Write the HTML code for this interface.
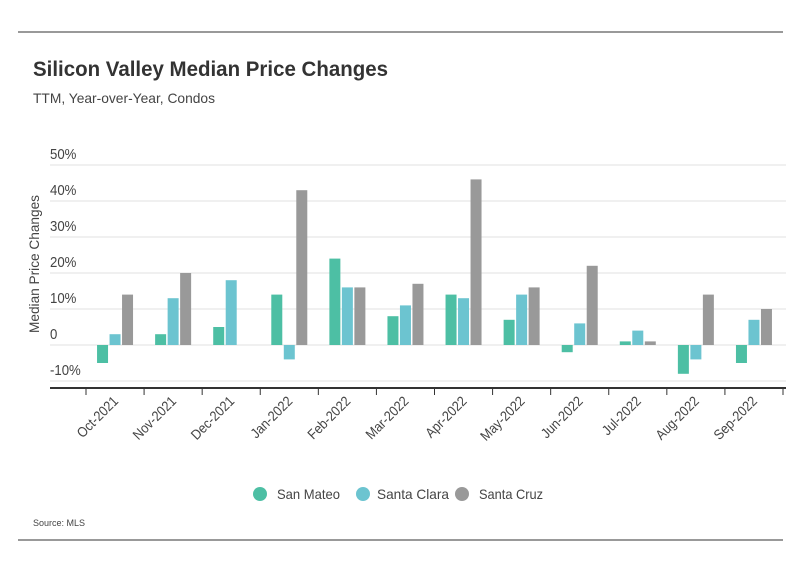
<!DOCTYPE html>
<html><head><meta charset="utf-8"><style>
body{margin:0;background:#fff;font-family:"Liberation Sans",sans-serif;}
#wrap{position:relative;width:801px;height:575px;overflow:hidden;}
text{font-family:"Liberation Sans",sans-serif;}
</style></head><body>
<div id="wrap">
<svg id="chart" width="801" height="575">
<line x1="18" y1="32" x2="783" y2="32" stroke="#333" stroke-width="1"/>
<line x1="18" y1="540" x2="783" y2="540" stroke="#333" stroke-width="1"/>
<text x="33" y="76" font-size="21" font-weight="bold" fill="#333" textLength="355" lengthAdjust="spacingAndGlyphs">Silicon Valley Median Price Changes</text>
<text x="33" y="103" font-size="14" fill="#444" textLength="182" lengthAdjust="spacingAndGlyphs">TTM, Year-over-Year, Condos</text>
<text transform="translate(39,264) rotate(-90)" text-anchor="middle" font-size="14" fill="#444" textLength="138" lengthAdjust="spacingAndGlyphs">Median Price Changes</text>
<g id="grid"></g><g id="bars"></g><g id="xaxis"></g>
<g>
<g><circle cx="260" cy="494" r="7" fill="#4dbfa4"/><text x="277" y="499" font-size="14" fill="#444" textLength="63" lengthAdjust="spacingAndGlyphs">San Mateo</text></g>
<g><circle cx="363" cy="494" r="7" fill="#6cc4d0"/><text x="377" y="499" font-size="14" fill="#444" textLength="72" lengthAdjust="spacingAndGlyphs">Santa Clara</text></g>
<g><circle cx="462" cy="494" r="7" fill="#999"/><text x="479" y="499" font-size="14" fill="#444" textLength="64" lengthAdjust="spacingAndGlyphs">Santa Cruz</text></g>
</g>
<text x="33" y="526" font-size="9" fill="#444">Source:  MLS</text>
</svg></div>
<script>
const categories=["Oct-2021","Nov-2021","Dec-2021","Jan-2022","Feb-2022","Mar-2022","Apr-2022","May-2022","Jun-2022","Jul-2022","Aug-2022","Sep-2022"];
const sanMateo=[-5,3,5,14,24,8,14,7,-2,1,-8,-5];
const santaClara=[3,13,18,-4,16,11,13,14,6,4,-4,7];
const santaCruz=[14,20,null,43,16,17,46,16,22,1,14,10];
const yTicks=[-10,0,10,20,30,40,50];
const yTickLabels=["-10%","0","10%","20%","30%","40%","50%"];
const NS="http://www.w3.org/2000/svg";
const x0=86,x1=783,y0=345,pp=3.6;
const bw=(x1-x0)/categories.length;
const y=v=>y0-v*pp;
const xc=i=>x0+bw*(i+0.5);
function mk(t,a,p){const e=document.createElementNS(NS,t);for(const k in a)e.setAttribute(k,a[k]);p.appendChild(e);return e;}
const grid=document.getElementById('grid');
yTicks.forEach((t,i)=>{
 const l=mk('line',{x1:50,x2:786,y1:y(t),y2:y(t),stroke:'#e2e2e2','stroke-width':1},grid);
 
 
 const tx=mk('text',{x:50,y:y(t)-6,'font-size':15,fill:'#444'},grid);
 tx.textContent=yTickLabels[i];
 tx.setAttribute('transform',`translate(50,0) scale(0.88,1) translate(-50,0)`);
 
 
});
const bars=document.getElementById('bars');
const series=[[sanMateo,'#4dbfa4','san-mateo'],[santaClara,'#6cc4d0','santa-clara'],[santaCruz,'#999','santa-cruz']];
const barW=11,step=12.5;
categories.forEach((c,i)=>{
 series.forEach((s,j)=>{
  const v=s[0][i]; if(v===null)return;
  const bx=xc(i)+(j-1)*step-barW/2;
  const r=mk('rect',{x:bx,y:Math.min(y(v),y0),width:barW,height:Math.abs(y(v)-y0),fill:s[1]},bars);
  
  
 });
});
const xa=document.getElementById('xaxis');
const al=mk('line',{x1:50,x2:786,y1:388,y2:388,stroke:'#333','stroke-width':2},xa);


for(let k=0;k<=categories.length;k++){
 const t=mk('line',{x1:x0+bw*k,x2:x0+bw*k,y1:388,y2:395,stroke:'#333'},xa);
 
 
}
categories.forEach((c,i)=>{
 const t=mk('text',{transform:`translate(${xc(i)+4},${402}) rotate(-45) scale(0.9,1)`,'text-anchor':'end','font-size':14,fill:'#444'},xa);
 t.textContent=c;
 
 
});
</script>
</body></html>
